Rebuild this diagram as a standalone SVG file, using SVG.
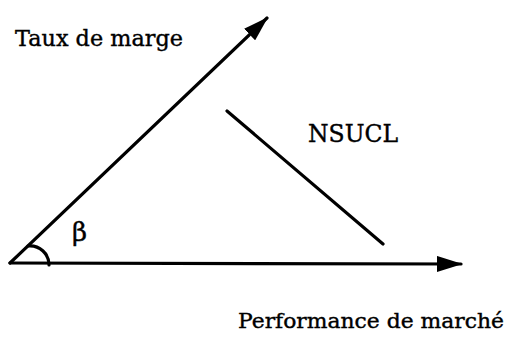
<svg xmlns="http://www.w3.org/2000/svg" width="514" height="349" viewBox="0 0 514 349">
<style>
.ln{stroke:#000;stroke-width:3.2;fill:none;stroke-linecap:round}
.t{font-family:'DejaVu Serif',serif;fill:#000;stroke:#000;stroke-width:0.4}
</style>
<defs>
<marker id="ah" markerWidth="8" markerHeight="5" refX="7.5" refY="2.5" orient="auto" markerUnits="strokeWidth">
<path d="M0,0 L8,2.5 L0,5 Z" fill="#000" stroke="none"/>
</marker>
</defs>
<rect width="514" height="349" fill="#fff"/>
<g id="connectors">
<path id="axis-x" class="ln" d="M10,263 L461,264" marker-end="url(#ah)"/>
<path id="axis-y" class="ln" d="M10,263 L267,18" marker-end="url(#ah)"/>
<path id="angle-arc" class="ln" d="M28,246 A19,19 0 0 1 49,265"/>
</g>
<g id="nsucl">
<path class="ln" d="M227,111 L383,244"/>
<text class="t" x="308" y="142" font-size="24" textLength="90" lengthAdjust="spacingAndGlyphs">NSUCL</text>
</g>
<g id="label-y">
<text class="t" x="15" y="46" font-size="23" textLength="168" lengthAdjust="spacingAndGlyphs">Taux de marge</text>
</g>
<g id="label-beta">
<text class="t" x="72" y="241" font-size="26">β</text>
</g>
<g id="label-x">
<text class="t" x="238" y="328" font-size="21" textLength="266" lengthAdjust="spacingAndGlyphs">Performance de marché</text>
</g>
</svg>
